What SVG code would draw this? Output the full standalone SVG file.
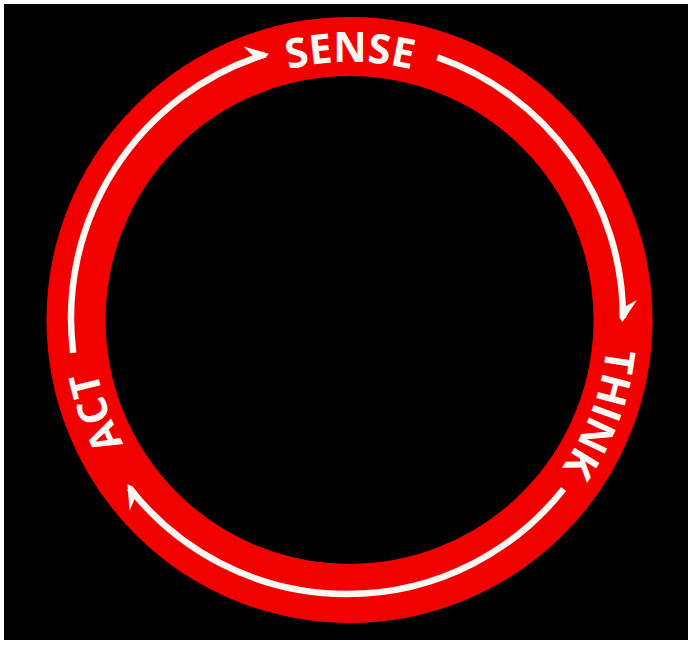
<svg xmlns="http://www.w3.org/2000/svg" xmlns:xlink="http://www.w3.org/1999/xlink" width="693" height="645" viewBox="0 0 693 645">
  <style>
    .lbl { font-family: "Open Sans", "Liberation Sans", sans-serif; font-weight: 700; font-size: 41px; fill: #fdf8f2; }
    .arc { fill: none; stroke: #fdf8f2; stroke-width: 6.5; stroke-linecap: butt; }
  </style>
  <defs>
    <marker id="barb" markerUnits="userSpaceOnUse" markerWidth="40" markerHeight="40" refX="0" refY="0" orient="auto" overflow="visible" viewBox="-30 -20 40 40">
      <path d="M4,0.5 L-18,-14 L-12,-3 L-12,3.25 L0,3.25 Z" fill="#fdf8f2"/>
    </marker>
    <path id="pSense" d="M126.6,191 A258,258 0 0 1 573.4,191"/>
    <path id="pThink" d="M549.1,155.9 A258,258 0 0 1 392.6,574.5"/>
    <path id="pAct" d="M305.2,574.1 A258,258 0 0 1 152.4,154.2"/>
  </defs>
  <rect x="0" y="0" width="693" height="645" fill="#ffffff"/>
  <rect x="4" y="4" width="684" height="636" fill="#000000"/>
  <g id="ring">
    <circle cx="349.5" cy="320" r="273.5" fill="none" stroke="#f20000" stroke-width="59"/>
  </g>
  <g id="connectors">
    <path class="arc" d="M73.2,352.8 A276,276 0 0 1 264.9,54.5" marker-end="url(#barb)"/>
    <path class="arc" d="M437.3,57.2 A276,276 0 0 1 623,318" marker-end="url(#barb)"/>
    <path class="arc" d="M563.6,489.1 A276,276 0 0 1 129.5,487.9" marker-end="url(#barb)"/>
  </g>
  <g id="sense">
    <text class="lbl" text-anchor="middle"><textPath xlink:href="#pSense" href="#pSense" startOffset="50%">SENSE</textPath></text>
  </g>
  <g id="think">
    <text class="lbl" text-anchor="middle"><textPath xlink:href="#pThink" href="#pThink" startOffset="50%">THINK</textPath></text>
  </g>
  <g id="act">
    <text class="lbl" text-anchor="middle"><textPath xlink:href="#pAct" href="#pAct" startOffset="50%">ACT</textPath></text>
  </g>
</svg>
